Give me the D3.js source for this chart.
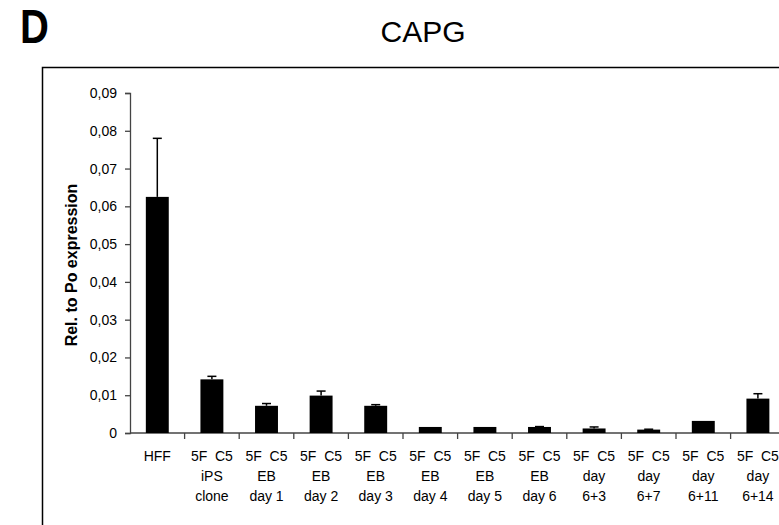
<!DOCTYPE html>
<html>
<head>
<meta charset="utf-8">
<script src="https://cdn.jsdelivr.net/npm/d3@7"></script>
<style>
  html, body { margin: 0; padding: 0; background: #fff; }
  svg { display: block; font-family: "Liberation Sans", Arial, sans-serif; }
</style>
</head>
<body>
<svg id="chart" width="779" height="525"></svg>
<script>
// Sample groups (each label is split into lines)
const categories = [
  ["HFF"],
  ["5F  C5", "iPS", "clone"],
  ["5F  C5", "EB", "day 1"],
  ["5F  C5", "EB", "day 2"],
  ["5F  C5", "EB", "day 3"],
  ["5F  C5", "EB", "day 4"],
  ["5F  C5", "EB", "day 5"],
  ["5F  C5", "EB", "day 6"],
  ["5F  C5", "day", "6+3"],
  ["5F  C5", "day", "6+7"],
  ["5F  C5", "day", "6+11"],
  ["5F  C5", "day", "6+14"]
];
// Mean CAPG expression relative to Po
const values = [0.0625, 0.0142, 0.0072, 0.0099, 0.0072, 0.0016, 0.0016, 0.0016, 0.0012, 0.0009, 0.0032, 0.0091];
// Upper error (standard deviation)
const errors = [0.0155, 0.0008, 0.0006, 0.0012, 0.0003, 0.0000, 0.0000, 0.0001, 0.0004, 0.0001, 0.0000, 0.0013];
const yTicks = [0, 0.01, 0.02, 0.03, 0.04, 0.05, 0.06, 0.07, 0.08, 0.09];

const svg = d3.select("#chart");
const ink = "#000";
const axisInk = "#444";

const x0 = 130, y0 = 433, yTop = 93, band = 54.6;
const ids = categories.map((d, i) => i);

const x = d3.scaleBand().domain(ids).range([x0, x0 + band * categories.length]).paddingInner(0.58).paddingOuter(0.29);
const y = d3.scaleLinear().domain([0, 0.09]).range([y0, yTop]);

const locale = d3.formatLocale({ decimal: ",", thousands: ".", grouping: [3], currency: ["", ""] });
const fmt = v => v === 0 ? "0" : locale.format(".2f")(v);

// Panel letter and title
svg.append("text").attr("x", 20).attr("y", 43)
  .attr("font-size", 40).attr("font-weight", "bold")
  .attr("transform", "translate(20,43) scale(1,1.2) translate(-20,-43)")
  .text("D");
svg.append("text").attr("x", 423).attr("y", 42).attr("text-anchor", "middle")
  .attr("font-size", 30).text("CAPG");

// Outer frame
svg.append("rect").attr("x", 42.5).attr("y", 67.5).attr("width", 800).attr("height", 500)
  .attr("fill", "none").attr("stroke", ink).attr("stroke-width", 1.5);

// Y axis
const yAxis = svg.append("g").attr("transform", `translate(${x0},0)`)
  .call(d3.axisLeft(y).tickValues(yTicks).tickFormat(fmt).tickSize(5).tickPadding(8));
yAxis.select(".domain").attr("stroke", axisInk).attr("stroke-width", 1.3);
yAxis.selectAll(".tick line").attr("stroke", axisInk).attr("stroke-width", 1.3);
yAxis.selectAll(".tick text").attr("font-size", 14).attr("fill", ink)
  .attr("font-family", "'Liberation Sans', Arial, sans-serif");

// X axis baseline and category separators
const xAxisG = svg.append("g");
xAxisG.append("line").attr("x1", x0).attr("x2", x0 + band * categories.length)
  .attr("y1", y0).attr("y2", y0).attr("stroke", axisInk).attr("stroke-width", 1.5);
xAxisG.selectAll("line.sep").data(d3.range(1, categories.length + 1)).join("line")
  .attr("class", "sep")
  .attr("x1", i => x0 + band * i).attr("x2", i => x0 + band * i)
  .attr("y1", y0).attr("y2", y0 + 6).attr("stroke", axisInk).attr("stroke-width", 1.3);

// Category labels
const labels = svg.append("g").selectAll("text").data(ids).join("text")
  .attr("text-anchor", "middle").attr("font-size", 14).attr("xml:space", "preserve")
  .style("white-space", "pre");
labels.each(function(i) {
  const t = d3.select(this);
  const cx = x(i) + x.bandwidth() / 2;
  categories[i].forEach((line, k) => {
    t.append("tspan").attr("x", cx).attr("y", 461 + k * 20).text(line);
  });
});

// Bars
svg.append("g").selectAll("rect").data(ids).join("rect")
  .attr("x", i => x(i)).attr("width", x.bandwidth())
  .attr("y", i => y(values[i])).attr("height", i => y(0) - y(values[i]))
  .attr("fill", ink);

// Error bars (upper whisker with cap)
const err = svg.append("g").attr("stroke", ink).attr("stroke-width", 1.5);
ids.filter(i => errors[i] > 0).forEach(i => {
  const cx = x(i) + x.bandwidth() / 2;
  err.append("line").attr("x1", cx).attr("x2", cx)
    .attr("y1", y(values[i])).attr("y2", y(values[i] + errors[i]));
  err.append("line").attr("x1", cx - 4.5).attr("x2", cx + 4.5)
    .attr("y1", y(values[i] + errors[i])).attr("y2", y(values[i] + errors[i]));
});

// Y axis title
svg.append("text")
  .attr("transform", "translate(77,265) rotate(-90)")
  .attr("text-anchor", "middle").attr("font-size", 16).attr("font-weight", "bold")
  .text("Rel. to Po expression");
</script>
</body>
</html>
